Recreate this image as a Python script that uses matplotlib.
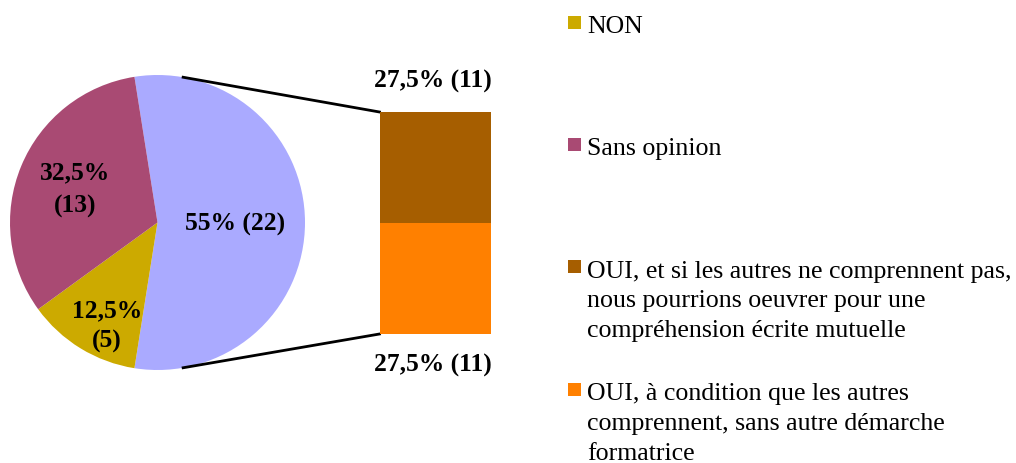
import matplotlib
matplotlib.use('Agg')
import matplotlib.pyplot as plt
import numpy as np

# survey answers (counts out of 40)
pie_counts_rest = [5, 13]            # NON, Sans opinion
bar_labels = ['OUI, et si les autres ne comprennent pas,\nnous pourrions oeuvrer pour une\ncompréhension écrite mutuelle',
              'OUI, à condition que les autres\ncomprennent, sans autre démarche\nformatrice']
bar_counts = [11, 11]                # top (brown), bottom (orange)
total = 40

pie_colors = ['#AAAAFF', '#CCAA00', '#A94A73']
bar_colors = ['#A65E00', '#FF8000']

plt.rcParams['font.family'] = ['Liberation Serif', 'DejaVu Serif']
fs = 18.4
fs_leg = 18.6

W, H = 1016, 463
fig = plt.figure(figsize=(W / 100, H / 100), dpi=100)
ax = fig.add_axes([0, 0, 1, 1])

def lab(n):
    p = n / total * 100
    return ('%g' % p).replace('.', ',') + '%% (%d)' % n

# pie: the OUI slice is the sum of the bar, centred on the right
pie_counts = [sum(bar_counts)] + pie_counts_rest
cx, cy, r = 157.5, H - 222.5, 147.5
start = pie_counts[0] / total * 180
ax.pie(pie_counts, colors=pie_colors, startangle=start, counterclock=False,
       center=(cx, cy), radius=r, frame=True,
       wedgeprops=dict(linewidth=0))
ax.set_xlim(0, W)
ax.set_ylim(0, H)
ax.set_aspect('auto')
ax.axis('off')

# pie labels (va='baseline' sits on the last line)
ax.text(235, H - 230.5, lab(pie_counts[0]), ha='center', va='baseline',
        fontsize=fs, fontweight='bold')
ax.text(107, H - 348, lab(pie_counts[1]).replace(' ', '\n'), ha='center',
        va='baseline', fontsize=fs, fontweight='bold', linespacing=1.45)
ax.text(75, H - 213, lab(pie_counts[2]).replace(' ', '\n'), ha='center',
        va='baseline', fontsize=fs, fontweight='bold', linespacing=1.57)

# stacked bar for the OUI breakdown
bx0, bx1, by0, by1 = 360, 510, H - 334, H - 112
bax = fig.add_axes([bx0 / W, by0 / H, (bx1 - bx0) / W, (by1 - by0) / H])
bax.bar(0, bar_counts[1], width=0.74, color=bar_colors[1], linewidth=0)
bax.bar(0, bar_counts[0], bottom=bar_counts[1], width=0.74,
        color=bar_colors[0], linewidth=0)
bax.set_xlim(-0.5, 0.5)
bax.set_ylim(0, sum(bar_counts))
bax.axis('off')
bax.patch.set_alpha(0)

ax.text(433, H - 88, lab(bar_counts[0]), ha='center', va='baseline',
        fontsize=fs, fontweight='bold')
ax.text(433, H - 371.5, lab(bar_counts[1]), ha='center', va='baseline',
        fontsize=fs, fontweight='bold')

# connector lines from pie to bar corners
left = bx0 + (bx1 - bx0) * (0.5 - 0.37)
a = np.radians(80)
ax.plot([cx + r * np.cos(a), left], [cy + r * np.sin(a), by1], color='black', lw=2)
ax.plot([cx + r * np.cos(a), left], [cy - r * np.sin(a), by0], color='black', lw=2)

# legend
leg_items = [('NON', pie_colors[1], 22, 33),
             ('Sans opinion', pie_colors[2], 144.5, 155),
             (bar_labels[0], bar_colors[0], 266.5, 337.3),
             (bar_labels[1], bar_colors[1], 389, 460)]
for text, col, sy, ty in leg_items:
    ax.add_patch(plt.Rectangle((568, H - sy - 6.5), 13, 13, color=col, lw=0))
    ax.text(587, H - ty, text, ha='left', va='baseline', fontsize=fs_leg,
            linespacing=1.46)

fig.savefig('out.png', dpi=100)
